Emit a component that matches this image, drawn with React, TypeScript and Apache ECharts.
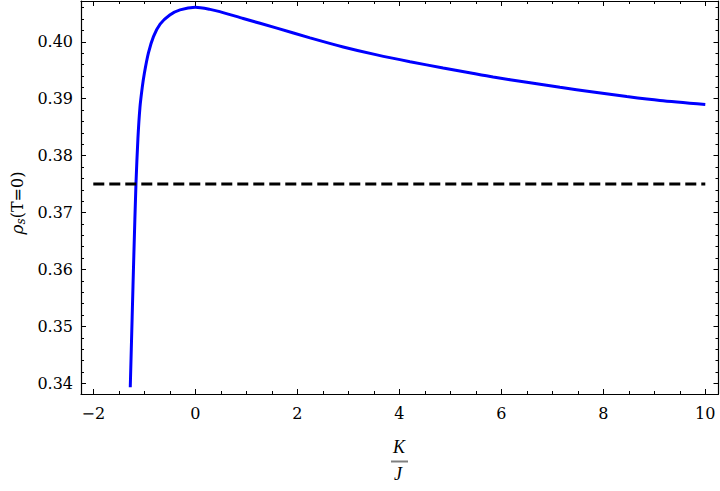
import React, { useEffect, useRef } from "react";
import * as echarts from "echarts";

// K/J values and superfluid density rho_s(T=0)
const kOverJ = [
  -1.275, -1.238, -1.205, -1.163, -1.125, -1.085, -1.04, -1.0, -0.92, -0.82,
  -0.69, -0.5, -0.3, 0.0, 0.29, 0.48, 0.94, 1.6, 2.25, 2.9, 3.56, 4.21, 4.86,
  5.35, 5.84, 6.5, 7.15, 7.8, 8.46, 9.11, 10.0,
];
const rhoS = [
  0.3393, 0.3516, 0.3625, 0.3751, 0.383, 0.3885, 0.392, 0.3944, 0.398, 0.4009,
  0.4031, 0.4047, 0.4056, 0.40605, 0.4057, 0.4053, 0.4041, 0.4024, 0.4007,
  0.3991, 0.3977, 0.3965, 0.3954, 0.3946, 0.3938, 0.3929, 0.392, 0.3912,
  0.3904, 0.3897, 0.389,
];
const referenceLevel = 0.375;
const referenceRange = [-2, 10];

const xMajorTicks = [-2, 0, 2, 4, 6, 8, 10];
const yMajorTicks = [0.34, 0.35, 0.36, 0.37, 0.38, 0.39, 0.4];

const X_MIN = -2.241;
const X_MAX = 10.259;
const Y_MIN = 0.33812;
const Y_MAX = 0.40717;

const xMinorTicks: number[] = [];
for (let i = -4; i <= 20; i++) xMinorTicks.push(i / 2);
const yMinorTicks: number[] = [];
for (let i = 338; i <= 407; i += 2) {
  const v = i / 1000;
  if (v > Y_MIN && v < Y_MAX) yMinorTicks.push(v);
}

const FONT = "DejaVu Serif";
const BLACK = "#000000";

function xAxisDef(position: "top" | "bottom", major: boolean, labels: boolean) {
  return {
    type: "value",
    position,
    min: X_MIN,
    max: X_MAX,
    axisLine: { show: major, onZero: false, lineStyle: { color: BLACK, width: 1.2 } },
    axisTick: {
      show: true,
      inside: true,
      length: major ? 5 : 3,
      customValues: major ? xMajorTicks : xMinorTicks,
      lineStyle: { color: BLACK, width: 1 },
    },
    axisLabel: labels
      ? {
          show: true,
          customValues: xMajorTicks,
          formatter: (v: number) => (v < 0 ? "\u2212" + Math.abs(v) : String(v)),
          fontFamily: FONT,
          fontSize: 16,
          color: BLACK,
          margin: 11,
        }
      : { show: false },
    splitLine: { show: false },
  };
}

function yAxisDef(position: "left" | "right", major: boolean, labels: boolean) {
  return {
    type: "value",
    position,
    min: Y_MIN,
    max: Y_MAX,
    axisLine: { show: major, onZero: false, lineStyle: { color: BLACK, width: 1.2 } },
    axisTick: {
      show: true,
      inside: true,
      length: major ? 5 : 3,
      customValues: major ? yMajorTicks : yMinorTicks,
      lineStyle: { color: BLACK, width: 1 },
    },
    axisLabel: labels
      ? {
          show: true,
          customValues: yMajorTicks,
          formatter: (v: number) => v.toFixed(2),
          fontFamily: FONT,
          fontSize: 16,
          color: BLACK,
          margin: 8,
        }
      : { show: false },
    splitLine: { show: false },
  };
}

export default function App() {
  const ref = useRef<HTMLDivElement>(null);
  useEffect(() => {
    document.body.style.margin = "0";
    if (!ref.current) return;
    const chart = echarts.init(ref.current, null, { renderer: "svg" });
    chart.setOption({
      animation: false,
      backgroundColor: "#ffffff",
      grid: { left: 81, right: 1.5, top: 1, bottom: 97, containLabel: false },
      xAxis: [
        xAxisDef("bottom", true, true),
        xAxisDef("bottom", false, false),
        xAxisDef("top", true, false),
        xAxisDef("top", false, false),
      ],
      yAxis: [
        yAxisDef("left", true, true),
        yAxisDef("left", false, false),
        yAxisDef("right", true, false),
        yAxisDef("right", false, false),
      ],
      series: [
        {
          type: "line",
          xAxisIndex: 0,
          yAxisIndex: 0,
          data: kOverJ.map((x, i) => [x, rhoS[i]]),
          showSymbol: false,
          smooth: 0.25,
          clip: true,
          lineStyle: { color: "#0000ff", width: 3 },
          z: 2,
        },
        {
          type: "line",
          xAxisIndex: 0,
          yAxisIndex: 0,
          data: referenceRange.map((x) => [x, referenceLevel]),
          showSymbol: false,
          lineStyle: { color: BLACK, width: 3, type: [11, 5] },
          z: 3,
        },
      ],
      graphic: [
        {
          type: "text",
          x: 399,
          y: 447,
          style: {
            text: "K",
            fontFamily: "Liberation Serif",
            fontStyle: "italic",
            fontSize: 18,
            fill: BLACK,
            align: "center",
            verticalAlign: "middle",
          },
        },
        {
          type: "line",
          shape: { x1: 391, y1: 461.5, x2: 408, y2: 461.5 },
          style: { stroke: "#808080", lineWidth: 2 },
        },
        {
          type: "text",
          x: 398,
          y: 474,
          style: {
            text: "J",
            fontFamily: "Liberation Serif",
            fontStyle: "italic",
            fontSize: 18,
            fill: BLACK,
            align: "center",
            verticalAlign: "middle",
          },
        },
        {
          type: "text",
          x: 17,
          y: 203,
          rotation: Math.PI / 2,
          style: {
            text: "{r|\u03c1}{s|s}{t|(T=0)}",
            align: "center",
            verticalAlign: "middle",
            rich: {
              r: {
                fontFamily: FONT,
                fontStyle: "italic",
                fontSize: 17,
                fill: BLACK,
                lineHeight: 20,
                verticalAlign: "middle",
              },
              s: {
                fontFamily: FONT,
                fontStyle: "italic",
                fontSize: 12,
                fill: BLACK,
                lineHeight: 20,
                verticalAlign: "bottom",
              },
              t: {
                fontFamily: FONT,
                fontSize: 16,
                fill: BLACK,
                lineHeight: 20,
                verticalAlign: "middle",
              },
            },
          },
        },
      ],
    });
    return () => chart.dispose();
  }, []);
  return (
    <div
      ref={ref}
      style={{ position: "absolute", left: 0, top: 0, width: 720, height: 491 }}
    />
  );
}
